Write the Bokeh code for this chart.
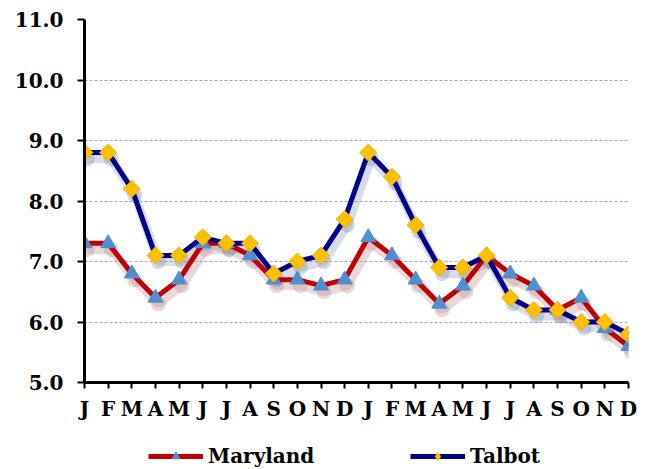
import math
from bokeh.plotting import figure
from bokeh.layouts import column
from bokeh.models import Range1d, FixedTicker, Legend, LegendItem
from bokeh.embed import file_html
from bokeh.resources import INLINE

months = ["J", "F", "M", "A", "M", "J", "J", "A", "S", "O", "N", "D",
          "J", "F", "M", "A", "M", "J", "J", "A", "S", "O", "N", "D"]
maryland = [7.3, 7.3, 6.8, 6.4, 6.7, 7.3, 7.3, 7.1, 6.7, 6.7, 6.6, 6.7,
            7.4, 7.1, 6.7, 6.3, 6.6, 7.1, 6.8, 6.6, 6.2, 6.4, 5.9, 5.6]
talbot = [8.8, 8.8, 8.2, 7.1, 7.1, 7.4, 7.3, 7.3, 6.8, 7.0, 7.1, 7.7,
          8.8, 8.4, 7.6, 6.9, 6.9, 7.1, 6.4, 6.2, 6.2, 6.0, 6.0, 5.8]
y_ticks = [5, 6, 7, 8, 9, 10, 11]

x = list(range(len(months)))
# drop-shadow offsets (data units)
sdx, sdy = 0.12, -0.1
xs = [v + sdx for v in x]

FONT = "DejaVu Serif"

p = figure(width=647, height=430, output_backend="svg", toolbar_location=None,
           x_range=Range1d(0, len(months) - 1), y_range=Range1d(5, 11),
           min_border_left=84, min_border_right=19, min_border_top=19,
           min_border_bottom=48)
p.outline_line_color = None
p.background_fill_color = "white"

# axes
for ax in (p.xaxis[0], p.yaxis[0]):
    ax.axis_line_color = "black"
    ax.axis_line_width = 3
    ax.major_tick_line_color = "black"
    ax.major_tick_line_width = 2
    ax.minor_tick_line_color = None
    ax.major_label_text_font = FONT
    ax.major_label_text_font_style = "bold"
    ax.major_label_text_font_size = "20px"
    ax.major_label_text_color = "black"

p.xaxis.ticker = FixedTicker(ticks=x)
p.xaxis.major_label_overrides = {i: m for i, m in enumerate(months)}
p.xaxis.major_tick_in = 0
p.xaxis.major_tick_out = 6
p.xaxis.major_label_standoff = 8

p.yaxis.ticker = FixedTicker(ticks=y_ticks)
p.yaxis.major_label_overrides = {t: f"{t:.1f}" for t in y_ticks}
p.yaxis.major_tick_in = 0
p.yaxis.major_tick_out = 7
p.yaxis.major_label_standoff = 14

p.xgrid.grid_line_color = None
p.ygrid.grid_line_color = "#a6a6c8"
p.ygrid.grid_line_width = 1
p.ygrid.grid_line_dash = "3 2"

# shadows
p.line(xs, [v + sdy for v in maryland], line_color="#b08080", line_width=9, line_alpha=0.3)
p.line(xs, [v + sdy for v in talbot], line_color="#7f90b0", line_width=9, line_alpha=0.3)
p.scatter(xs, [v + sdy for v in maryland], marker="circle", size=15, fill_color="#c09090",
          line_color=None, fill_alpha=0.35)
p.scatter(xs, [v + sdy for v in talbot], marker="circle", size=15, fill_color="#8090b0",
          line_color=None, fill_alpha=0.35)

# series
p.line(x, maryland, line_color="#C00000", line_width=5)
p.scatter(x, maryland, marker="triangle", size=15, fill_color="#4F8FD0",
          line_color="#4F8FD0", line_width=1)
p.line(x, talbot, line_color="#000088", line_width=5)
p.scatter(x, talbot, marker="square", size=12, angle=math.pi / 4,
          fill_color="#FFC000", line_color="#F0B000", line_width=1)

# legend strip below the chart
p2 = figure(width=647, height=39, output_backend="svg", toolbar_location=None,
            x_range=Range1d(0, 1), y_range=Range1d(0, 1),
            min_border_left=0, min_border_right=0, min_border_top=0,
            min_border_bottom=0, x_axis_type=None, y_axis_type=None)
p2.outline_line_color = None
p2.xgrid.grid_line_color = None
p2.ygrid.grid_line_color = None

nan = float("nan")
lml = p2.line([nan], [nan], line_color="#C00000", line_width=5)
lmm = p2.scatter([nan], [nan], marker="triangle", size=11, fill_color="#4F8FD0",
                 line_color="#4F8FD0")
ltl = p2.line([nan], [nan], line_color="#000088", line_width=5)
ltm = p2.scatter([nan], [nan], marker="diamond", size=13,
                 fill_color="#FFC000", line_color="#F0B000")

legend = Legend(items=[LegendItem(label="Maryland", renderers=[lml, lmm]),
                       LegendItem(label="Talbot", renderers=[ltl, ltm])],
                location=(64, 1), orientation="horizontal",
                glyph_width=55, glyph_height=20, label_standoff=5,
                label_width=110, spacing=92, padding=0, margin=0,
                border_line_color=None, background_fill_alpha=0,
                label_text_font=FONT, label_text_font_style="bold",
                label_text_font_size="20px", label_text_color="black",
                label_height=20)
p2.add_layout(legend, "center")

open("out.html", "w").write(file_html(column(p, p2, spacing=0), INLINE))
